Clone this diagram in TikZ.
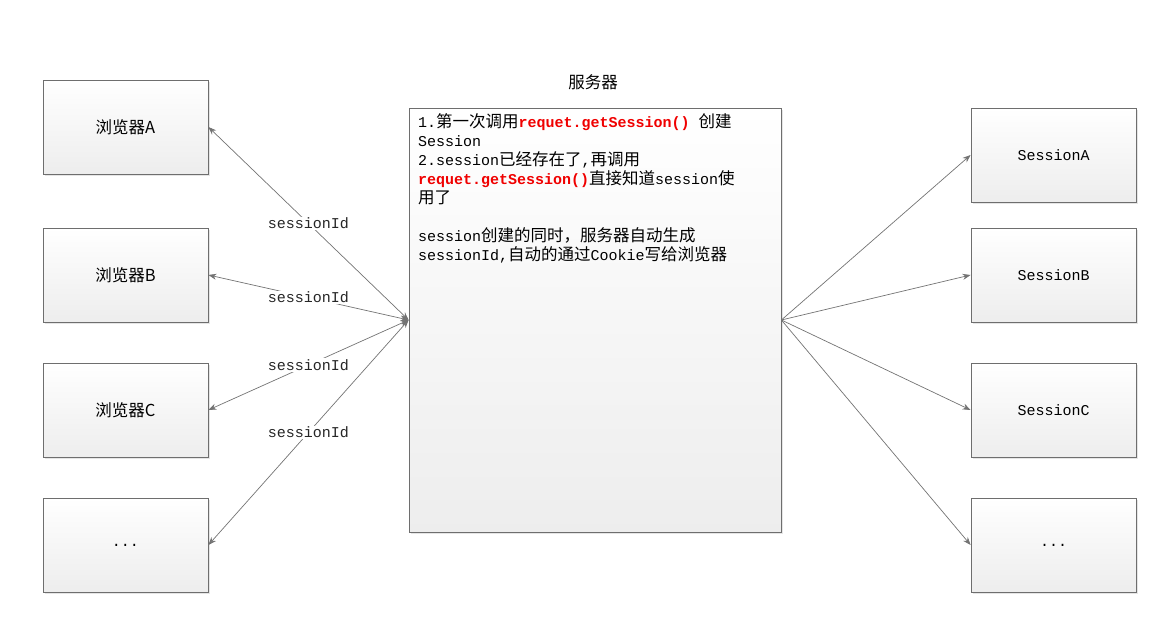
\documentclass[tikz,border=0pt]{standalone}
\usepackage{fontspec}
\setmainfont{Liberation Mono}
\newfontfamily\cjk[Scale=1.1]{Noto Sans CJK SC}
\usetikzlibrary{arrows.meta, shadows}
\definecolor{EdgeGray}{RGB}{110,110,110}
\definecolor{LinkGray}{RGB}{115,115,115}
\definecolor{CodeRed}{RGB}{240,0,0}

\begin{document}
\begin{tikzpicture}[x=1pt, y=-1pt, font=\fontsize{15}{19}\selectfont,
  box/.style={draw=EdgeGray, line width=0.8pt, top color=white, bottom color=black!7,
    minimum width=165pt, minimum height=94pt,
    drop shadow={shadow xshift=2pt, shadow yshift=-2pt, fill=black!10, opacity=1}},
  link/.style={draw=LinkGray, line width=0.7pt, -{Stealth[length=8pt, width=6pt]}},
  idlabel/.style={midway, fill=white, inner sep=1pt, text=black!85}]
\useasboundingbox (0,0) rectangle (1172,617);
% browsers
\node[box] (brA) at (125.5,127) {\cjk 浏览器A};
\node[box] (brB) at (125.5,275) {\cjk 浏览器B};
\node[box] (brC) at (125.5,410) {\cjk 浏览器C};
\node[box] (brD) at (125.5,545) {...};
% server
\node[box, minimum width=372pt, minimum height=424pt] (srv) at (595,320) {};
\node (srvT) at (593,82) {\cjk 服务器};
\node[anchor=north west, align=left, inner sep=0pt] (note) at (418,113) {%
1.{\cjk 第一次调用}\textbf{\color{CodeRed}requet.getSession()} {\cjk 创建}\\
Session\\
2.session{\cjk 已经存在了},{\cjk 再调用}\\
\textbf{\color{CodeRed}requet.getSession()}{\cjk 直接知道}session{\cjk 使}\\
{\cjk 用了}\\[19pt]
session{\cjk 创建的同时，服务器自动生成}\\
sessionId,{\cjk 自动的通过}Cookie{\cjk 写给浏览器}};
% sessions
\node[box] (ssA) at (1053.5,155) {SessionA};
\node[box] (ssB) at (1053.5,275) {SessionB};
\node[box] (ssC) at (1053.5,410) {SessionC};
\node[box] (ssD) at (1053.5,545) {...};
% sessionId both ways
\foreach \b in {A,B,C,D}
  \draw[link, {Stealth[length=8pt, width=6pt]}-{Stealth[length=8pt, width=6pt]}] (srv.west) -- node[idlabel] {sessionId} (br\b.east);
\foreach \s in {A,B,C,D}
  \draw[link] (srv.east) -- (ss\s.west);
\end{tikzpicture}
\end{document}
